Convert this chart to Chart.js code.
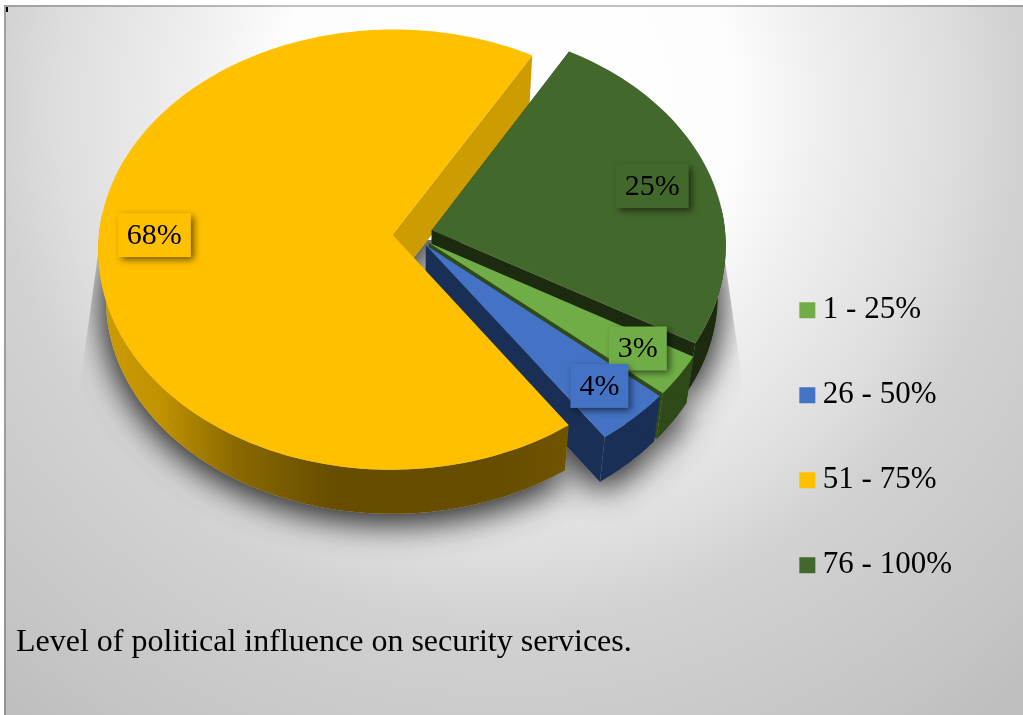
<!DOCTYPE html>
<html>
<head>
<meta charset="utf-8">
<title>Political influence</title>
<script src="https://cdn.jsdelivr.net/npm/chart.js@4"></script>
<style>
  html, body { margin: 0; padding: 0; background: #fff; }
  canvas { display: block; }
</style>
</head>
<body>
<canvas id="influenceChart" width="1023" height="715"></canvas>
<script>
const categories = ['1 - 25%', '26 - 50%', '51 - 75%', '76 - 100%'];
const shares = [3, 4, 68, 25];
const captionText = 'Level of political influence on security services.';

const topColors = ['#70ad47', '#4472c4', '#ffc000', '#43682b'];
const wallColors = ['#2f4a18', '#1a2f56', '#cc9c00', '#1c2b10'];
const labelReach = [0.84, 0.84, 0.81, 0.79];
const labelLift = [5, 3, 7, 0];

// Projection of the pie plane: slight perspective, nearer edge is larger
const view = { x: 412.5, y: 234, radius: 293.5, flat: 219, tilt: 0.068, depth: 50, shrink: 0.975 };
const YELLOW = 2;

function project(u, v) {
  const w = 1 - view.tilt * v;
  return { x: view.x + view.radius * u / w, y: view.y + view.flat * v / w };
}

function drop(p) {
  return {
    x: view.x + (p.x - view.x) * view.shrink,
    y: view.y + (p.y - view.y) * view.shrink + view.depth
  };
}

// Apex and rim of a slice, taken from the angles Chart.js worked out
function sliceShape(arc) {
  const { startAngle, endAngle } = arc.getProps(['startAngle', 'endAngle'], true);
  const mid = (startAngle + endAngle) / 2;
  const shift = arc.options.offset / view.radius;
  const ox = Math.cos(mid) * shift;
  const oy = Math.sin(mid) * shift;
  const steps = Math.max(6, Math.round((endAngle - startAngle) * 40));
  const rim = [];
  const frontRim = [];
  for (let i = 0; i <= steps; i++) {
    const t = startAngle + (endAngle - startAngle) * i / steps;
    const p = project(ox + Math.cos(t), oy + Math.sin(t));
    rim.push(p);
    // only the side of the rim facing the viewer gets a wall
    if (Math.sin(t) > -0.1) frontRim.push(p);
  }
  return { apex: project(ox, oy), rim, frontRim, mid, ox, oy };
}

function fillPath(ctx, points, style) {
  ctx.beginPath();
  points.forEach((p, i) => (i ? ctx.lineTo(p.x, p.y) : ctx.moveTo(p.x, p.y)));
  ctx.closePath();
  ctx.fillStyle = style;
  ctx.fill();
}

function drawCutFaces(ctx, shape, color) {
  const first = shape.rim[0];
  const last = shape.rim[shape.rim.length - 1];
  fillPath(ctx, [shape.apex, first, drop(first), drop(shape.apex)], color);
  fillPath(ctx, [shape.apex, last, drop(last), drop(shape.apex)], color);
}

function drawOuterWall(ctx, shape, style) {
  fillPath(ctx, shape.frontRim.concat(shape.frontRim.map(drop).reverse()), style);
}

function drawTop(ctx, shape, color) {
  fillPath(ctx, [shape.apex].concat(shape.rim), color);
}

function yellowWallGradient(ctx) {
  const g = ctx.createLinearGradient(100, 0, 570, 0);
  g.addColorStop(0, '#cc9c00');
  g.addColorStop(0.13, '#c09200');
  g.addColorStop(0.29, '#8a6900');
  g.addColorStop(0.5, '#664d00');
  g.addColorStop(0.85, '#664d00');
  g.addColorStop(1, '#705500');
  return g;
}

const pie3d = {
  id: 'pie3d',
  beforeDraw(chart) {
    const ctx = chart.ctx;
    const bg = ctx.createRadialGradient(505, 110, 0, 505, 110, 765);
    bg.addColorStop(0, '#ffffff');
    bg.addColorStop(0.3, '#fdfdfd');
    bg.addColorStop(0.41, '#efefef');
    bg.addColorStop(0.5, '#e6e6e6');
    bg.addColorStop(0.58, '#dedede');
    bg.addColorStop(0.667, '#d2d2d2');
    bg.addColorStop(0.93, '#c4c4c4');
    bg.addColorStop(1, '#bfbfbf');
    ctx.fillStyle = bg;
    ctx.fillRect(4, 5, 1019, 710);

    // Edge of the plate
    ctx.fillStyle = 'rgba(0,0,0,0.24)';
    ctx.fillRect(4, 5, 1019, 2);
    ctx.fillRect(4, 7, 2, 708);
    ctx.fillStyle = '#000';
    ctx.fillRect(6, 7, 2, 5);
  },
  beforeDatasetDraw(chart) {
    const ctx = chart.ctx;
    const shapes = chart.getDatasetMeta(0).data.map(sliceShape);

    // Soft floor shadow with hard side limits, laid down twice for weight
    ctx.save();
    ctx.beginPath();
    ctx.moveTo(100, 240);
    ctx.lineTo(78, 400);
    ctx.lineTo(78, 570);
    ctx.lineTo(745, 570);
    ctx.lineTo(745, 400);
    ctx.lineTo(722, 240);
    ctx.closePath();
    ctx.clip();
    ctx.shadowColor = 'rgba(0,0,0,0.6)';
    ctx.shadowBlur = 34;
    ctx.shadowOffsetY = 6;
    for (let pass = 0; pass < 2; pass++) {
      shapes.forEach(s => {
        fillPath(ctx, [drop(s.apex)].concat(s.rim.map(drop)), '#b4b4b4');
      });
    }
    ctx.restore();

    // Back to front; the large slice's outer wall and top go on last
    drawCutFaces(ctx, shapes[YELLOW], wallColors[YELLOW]);
    [3, 0, 1].forEach(i => {
      drawOuterWall(ctx, shapes[i], wallColors[i]);
      drawCutFaces(ctx, shapes[i], wallColors[i]);
      drawTop(ctx, shapes[i], topColors[i]);
    });
    drawOuterWall(ctx, shapes[YELLOW], yellowWallGradient(ctx));
    drawTop(ctx, shapes[YELLOW], topColors[YELLOW]);
    return false;
  },
  afterDatasetsDraw(chart) {
    const ctx = chart.ctx;
    const arcs = chart.getDatasetMeta(0).data;
    ctx.save();
    ctx.font = '30px "Liberation Serif"';
    ctx.textAlign = 'center';
    ctx.textBaseline = 'middle';
    arcs.forEach((arc, i) => {
      const s = sliceShape(arc);
      const reach = labelReach[i];
      const p = project(s.ox + Math.cos(s.mid) * reach, s.oy + Math.sin(s.mid) * reach);
      p.y -= labelLift[i];
      const text = shares[i] + '%';
      const w = ctx.measureText(text).width + 18;
      ctx.save();
      ctx.shadowColor = 'rgba(0,0,0,0.6)';
      ctx.shadowBlur = 7;
      ctx.shadowOffsetX = 3;
      ctx.shadowOffsetY = 3;
      ctx.fillStyle = topColors[i];
      ctx.fillRect(p.x - w / 2, p.y - 22, w, 44);
      ctx.restore();
      ctx.fillStyle = '#000';
      ctx.fillText(text, p.x, p.y + 1);
    });
    ctx.restore();
  }
};

new Chart(document.getElementById('influenceChart'), {
  type: 'pie',
  data: {
    labels: categories,
    datasets: [{
      data: shares,
      backgroundColor: topColors,
      borderWidth: 0,
      offset: 20
    }]
  },
  options: {
    responsive: false,
    animation: false,
    events: [],
    rotation: 120,
    layout: { padding: { left: 16, right: 61, top: 0, bottom: 64 } },
    plugins: {
      tooltip: { enabled: false },
      legend: {
        position: 'right',
        align: 'end',
        fullSize: false,
        labels: {
          usePointStyle: true,
          pointStyle: 'rect',
          boxWidth: 0.01,
          boxHeight: 16,
          padding: 54,
          color: '#000',
          font: { family: '"Liberation Serif"', size: 31 }
        }
      },
      title: {
        display: true,
        text: captionText,
        position: 'bottom',
        align: 'start',
        color: '#000',
        padding: 0,
        font: { family: '"Liberation Serif"', size: 32, weight: 'normal', lineHeight: 0.51 }
      }
    }
  },
  plugins: [pie3d]
});
</script>
</body>
</html>
